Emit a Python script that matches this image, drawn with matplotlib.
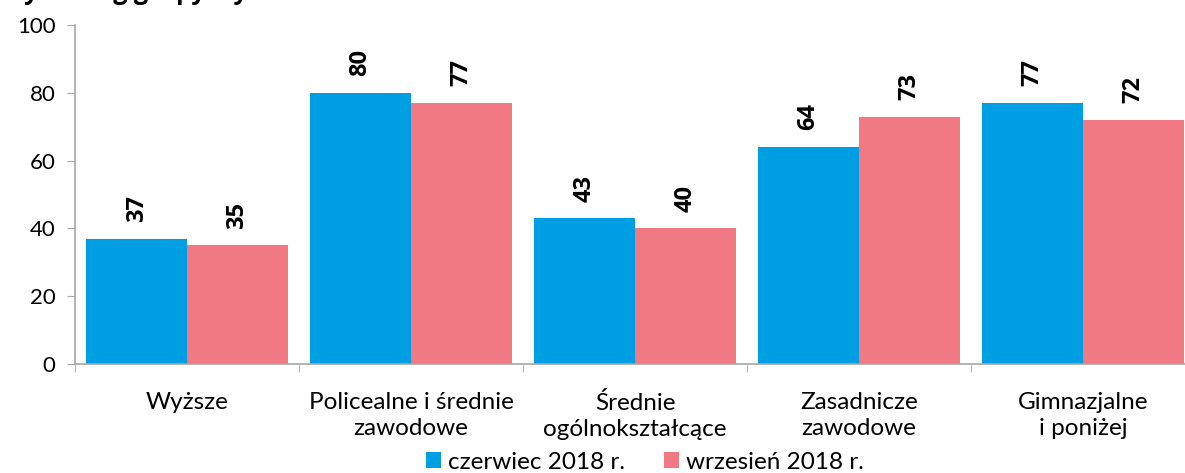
import matplotlib
matplotlib.use("Agg")
import matplotlib.pyplot as plt
import numpy as np

categories = ["Wyższe", "Policealne i średnie\nzawodowe", "Średnie\nogólnokształcące",
              "Zasadnicze\nzawodowe", "Gimnazjalne\ni poniżej"]
series_names = ["czerwiec 2018 r.", "wrzesień 2018 r."]
june = [37, 80, 43, 64, 77]
sept = [35, 77, 40, 73, 72]
yticks = [0, 20, 40, 60, 80, 100]
title = "Wyniki wg grupy wykształcenia"

colors = ["#009FE3", "#F07983"]
plt.rcParams['font.family'] = ['Lato', 'DejaVu Sans']

fig = plt.figure(figsize=(11.85, 4.73), dpi=100)
ax = fig.add_axes([75/1185, 1-364/473, 1120/1185, 339/473])

x = np.arange(len(categories))
w = 0.45
ax.bar(x - w/2, june, width=w, color=colors[0], label=series_names[0])
ax.bar(x + w/2, sept, width=w, color=colors[1], label=series_names[1])

for xs, vals in ((x - w/2, june), (x + w/2, sept)):
    for xi, v in zip(xs, vals):
        ax.annotate(str(v), (xi, v), xytext=(0, 12), textcoords="offset points",
                    rotation=90, ha="center", va="bottom", fontsize=17,
                    fontweight="bold", family=["Open Sans", "DejaVu Sans"])

ax.set_xlim(-0.5, len(categories) - 0.5)
ax.set_ylim(0, 100)
ax.set_yticks(yticks)
ax.set_yticklabels([str(t) for t in yticks], fontsize=16)
ax.set_xticks(x)
ax.set_xticklabels(categories, fontsize=17.5, linespacing=1.3)
ax.set_xticks(np.arange(-0.5, len(categories)), minor=True)
ax.tick_params(axis="x", which="major", length=0, pad=20)
ax.tick_params(axis="x", which="minor", length=6, color="#A6A6A6")
ax.tick_params(axis="y", length=6, color="#A6A6A6", pad=8)
for s in ["top", "right"]:
    ax.spines[s].set_visible(False)
for s in ["left", "bottom"]:
    ax.spines[s].set_color("#A6A6A6")
    ax.spines[s].set_linewidth(1.2)

ax.legend(loc="center", bbox_to_anchor=((645 - 75) / 1120, (364 - 462) / 339),
          ncol=2, frameon=False, fontsize=17.5, handlelength=0.6, handleheight=0.6,
          handletextpad=0.3, columnspacing=1.6, borderaxespad=0, borderpad=0)

fig.text(0.0, 1.0 + 1/473, title, fontsize=18, fontweight="bold",
         ha="left", va="baseline", family=["Open Sans", "DejaVu Sans"])

fig.savefig("out.png", dpi=100)
